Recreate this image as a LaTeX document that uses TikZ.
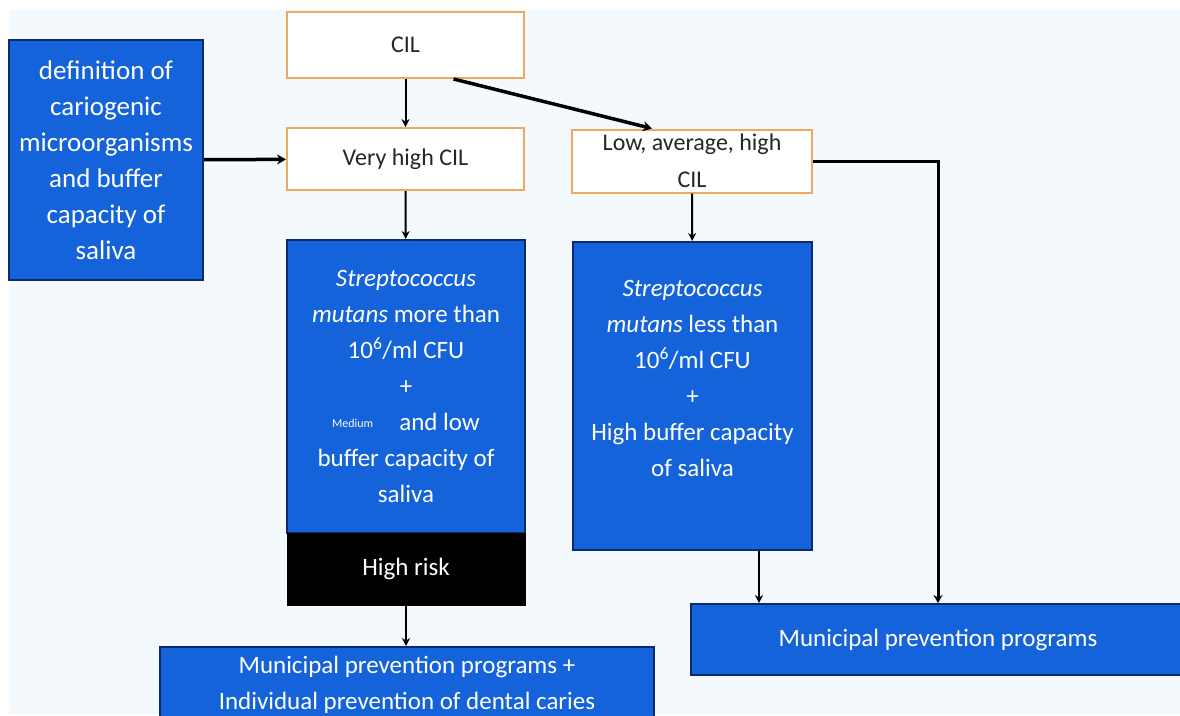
\documentclass[tikz,border=0pt]{standalone}
\usepackage{fontspec}
\setmainfont{Carlito}
\usetikzlibrary{arrows.meta}
\definecolor{bgblue}{HTML}{F4F9FD}
\definecolor{boxblue}{HTML}{1463DA}
\definecolor{navy}{HTML}{0C2B6E}
\definecolor{cilorange}{HTML}{EFA860}
\tikzset{
  cilbox/.style={draw=cilorange, fill=white, line width=2pt, text=black!85, align=center,
    font=\fontsize{24}{37}\selectfont, inner sep=0pt},
  bluebox/.style={draw=navy, fill=boxblue, line width=2pt, text=white, align=center,
    font=\fontsize{25}{36}\selectfont, inner sep=0pt},
  riskbox/.style={draw=black, fill=black, line width=1pt, text=white, align=center,
    font=\fontsize{25}{36}\selectfont, inner sep=0pt},
  link/.style={line width=2pt, -{Stealth[length=8pt,width=8pt]}},
  heavylink/.style={line width=3.5pt, -{Stealth[length=9pt,width=10pt]}}
}
\begin{document}
\begin{tikzpicture}[x=1pt,y=-1pt]
    \useasboundingbox (0,0) rectangle (1180,715);
    \clip (0,0) rectangle (1180,715);
    \fill[white] (0,0) rectangle (1180,715);
    \fill[bgblue] (9,10) rectangle (1180,715);
    % CIL levels
    \node[cilbox, minimum width=237pt, minimum height=66pt] (cil) at (405.5,45) {CIL};
    \node[cilbox, minimum width=237pt, minimum height=62pt] (vhigh) at (405.5,159) {Very high CIL};
    \node[cilbox, minimum width=240pt, minimum height=63pt] (low) at (692,161) {Low, average, high\\CIL};
    \node[bluebox, minimum width=194pt, minimum height=240pt, font=\fontsize{27}{36}\selectfont] (defn) at (106,160)
        {definition of\\cariogenic\\microorganisms\\and buffer\\capacity of\\saliva};
    % saliva tests
    \node[bluebox, minimum width=238pt, minimum height=293pt] (strep1) at (406,386.5)
        {\textit{Streptococcus}\\\textit{mutans} more than\\10\textsuperscript{6}/ml CFU\\+\\
         \raisebox{3pt}{\fontsize{12}{12}\selectfont Medium}\hspace{26pt}and low\\buffer capacity of\\saliva};
    \node[riskbox, minimum width=238pt, minimum height=72pt] (risk) at (406,569) {High risk};
    \node[bluebox, minimum width=239pt, minimum height=308pt] (strep2) at (692.5,396)
        {\textit{Streptococcus}\\\textit{mutans} less than\\10\textsuperscript{6}/ml CFU\\+\\High buffer capacity\\of saliva\\~};
    % programs
    \node[bluebox, minimum width=494pt, minimum height=75pt] (prog1) at (407,684.5)
        {Municipal prevention programs +\\Individual prevention of dental caries};
    \node[bluebox, minimum width=494pt, minimum height=71pt] (prog2) at (938,639.5)
        {Municipal prevention programs};
    % connectors
    \draw[link] (cil) -- (vhigh);
    \draw[heavylink] ([xshift=48pt]cil.south) -- ([xshift=-40pt]low.north);
    \draw[heavylink] (defn) -- (vhigh);
    \draw[link] (vhigh) -- (strep1);
    \draw[link] (low) -- (strep2);
    \draw[link] (risk) -- (risk |- prog1.north);
    \draw[line width=3pt, -{Stealth[length=8pt,width=9pt]}] (low.east) -| (prog2.north);
    \coordinate (drop) at ([xshift=66.5pt]strep2.south);
    \draw[link] (drop) -- (drop |- prog2.north);
\end{tikzpicture}
\end{document}
